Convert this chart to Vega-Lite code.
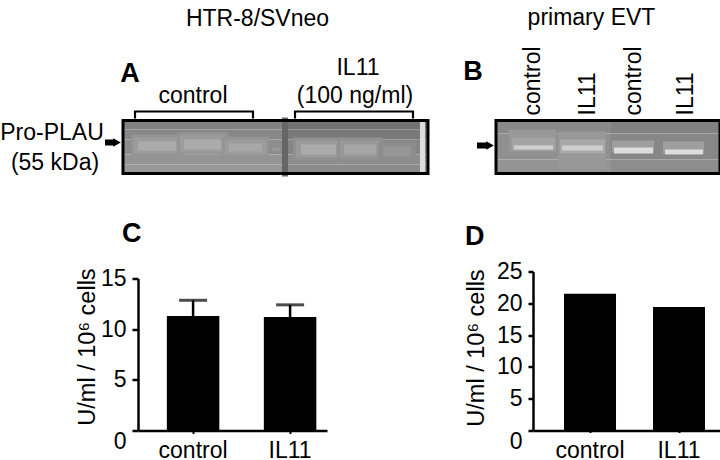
{
"$schema":"https://vega.github.io/schema/vega-lite/v6.json",
"autosize":{"type":"pad"},
"padding":{"left":0,"top":6.5,"right":0,"bottom":0},
"background":"white",
"config":{"view":{"stroke":null},"font":"Liberation Sans"},
"spacing":33,
"hconcat":[
{"spacing":43,"vconcat":[
 {"width":305,"height":55,
  "title":{"text":"HTR-8/SVneo","fontSize":23,"fontWeight":"normal","font":"Liberation Sans","anchor":"middle","frame":"group","dx":-18,"offset":26},
  "encoding":{"x":{"field":"pos","type":"quantitative","scale":{"domain":[0,305]},"axis":null},"y":{"field":"depth","type":"quantitative","scale":{"domain":[0,55],"reverse":true},"axis":null}},
  "layer":[
   {"data":{"values":[
     {"pos":0,"pos2":159,"depth":0,"depth2":10,"shade":138},{"pos":0,"pos2":159,"depth":10,"depth2":20,"shade":144},{"pos":0,"pos2":159,"depth":20,"depth2":35,"shade":150},{"pos":0,"pos2":159,"depth":35,"depth2":45,"shade":156},{"pos":0,"pos2":159,"depth":45,"depth2":55,"shade":160},
     {"pos":165,"pos2":305,"depth":0,"depth2":10,"shade":122},{"pos":165,"pos2":305,"depth":10,"depth2":20,"shade":130},{"pos":165,"pos2":305,"depth":20,"depth2":35,"shade":142},{"pos":165,"pos2":305,"depth":35,"depth2":45,"shade":150},{"pos":165,"pos2":305,"depth":45,"depth2":55,"shade":148},
     {"pos":8,"pos2":60,"depth":15,"depth2":36,"shade":156},{"pos":11,"pos2":57,"depth":18,"depth2":34,"shade":164},{"pos":15,"pos2":53,"depth":22,"depth2":31,"shade":178},
     {"pos":54,"pos2":105,"depth":13,"depth2":35,"shade":156},{"pos":57,"pos2":102,"depth":16,"depth2":33,"shade":164},{"pos":61,"pos2":98,"depth":20,"depth2":30,"shade":178},
     {"pos":99,"pos2":146,"depth":17,"depth2":37,"shade":156},{"pos":102,"pos2":143,"depth":20,"depth2":35,"shade":164},{"pos":106,"pos2":139,"depth":24,"depth2":32,"shade":176},
     {"pos":149,"pos2":157,"depth":28,"depth2":31,"shade":160},
     {"pos":170,"pos2":221,"depth":18,"depth2":41,"shade":152},{"pos":173,"pos2":218,"depth":21,"depth2":38,"shade":162},{"pos":178,"pos2":213,"depth":25,"depth2":35,"shade":178},
     {"pos":214,"pos2":260,"depth":18,"depth2":41,"shade":152},{"pos":217,"pos2":257,"depth":21,"depth2":38,"shade":160},{"pos":221,"pos2":253,"depth":25,"depth2":35,"shade":174},
     {"pos":255,"pos2":293,"depth":23,"depth2":41,"shade":150},{"pos":260,"pos2":288,"depth":27,"depth2":37,"shade":158},
     {"pos":297,"pos2":302,"depth":0,"depth2":55,"shade":225},
     {"pos":159,"pos2":165,"depth":-2,"depth2":57,"shade":110}
    ]},
    "mark":{"type":"rect"},
    "encoding":{"x2":{"field":"pos2"},"y2":{"field":"depth2"},"color":{"field":"shade","type":"quantitative","scale":{"domain":[0,255],"range":["#000000","#ffffff"]},"legend":null}}},
   {"data":{"values":[{"pos":0,"pos2":305,"depth":1,"depth2":54}]},"mark":{"type":"rect","fill":null,"stroke":"#000000","strokeWidth":3},"encoding":{"x2":{"field":"pos2"},"y2":{"field":"depth2"}}},
   {"data":{"values":[{"pos":12,"depth":-1,"b":"c","seq":1},{"pos":12,"depth":-8,"b":"c","seq":2},{"pos":130,"depth":-8,"b":"c","seq":3},{"pos":130,"depth":-1,"b":"c","seq":4},{"pos":172,"depth":-1,"b":"i","seq":1},{"pos":172,"depth":-8,"b":"i","seq":2},{"pos":290,"depth":-8,"b":"i","seq":3},{"pos":290,"depth":-1,"b":"i","seq":4}]},
    "mark":{"type":"line","color":"#000000","strokeWidth":2.2,"interpolate":"linear"},"encoding":{"detail":{"field":"b"},"order":{"field":"seq","type":"ordinal"}}},
   {"data":{"values":[{"pos":-18,"depth":23},{"pos":-8,"depth":23}]},"mark":{"type":"line","color":"#000000","strokeWidth":6}},
   {"data":{"values":[{"pos":-6,"depth":23}]},"mark":{"type":"point","shape":"triangle-right","filled":true,"color":"#000000","size":75,"opacity":1}},
   {"data":{"values":[{"pos":70,"depth":-24,"label":"control"},{"pos":235,"depth":-52,"label":"IL11"},{"pos":232,"depth":-24,"label":"(100 ng/ml)"},{"pos":-71,"depth":13,"label":"Pro-PLAU"},{"pos":-68,"depth":43,"label":"(55 kDa)"}]},
    "mark":{"type":"text","fontSize":23,"color":"#000000","font":"Liberation Sans"},"encoding":{"text":{"field":"label"}}},
   {"data":{"values":[{"pos":7,"depth":-46,"label":"A"}]},"mark":{"type":"text","fontSize":27,"fontWeight":"bold","color":"#000000","font":"Liberation Sans"},"encoding":{"text":{"field":"label"}}}
  ]},
 {"spacing":-52,"hconcat":[
  {"width":1,"height":1,"data":{"values":[{"k":1}]},"mark":{"type":"point","opacity":0},"encoding":{}},
  {"width":189,"height":152,
   "title":{"text":"C","fontSize":27,"fontWeight":"bold","font":"Liberation Sans","anchor":"start","frame":"group","dx":-16,"offset":20},
   "data":{"values":[{"group":"control","value":11.3,"upper":12.85},{"group":"IL11","value":11.2,"upper":12.4}]},
   "encoding":{"x":{"field":"group","type":"nominal","sort":["control","IL11"],"scale":{"paddingInner":0.459,"paddingOuter":0.2037,"align":0.73},
     "axis":{"title":null,"labelAngle":0,"labelFontSize":23,"labelColor":"#000000","labelFont":"Liberation Sans","domainColor":"#000000","domainWidth":2.5,"tickColor":"#000000","tickWidth":2,"tickSize":3,"labelPadding":6}}},
   "layer":[
    {"mark":{"type":"rule","color":"#000000","strokeWidth":2.5},"encoding":{"y":{"field":"value","type":"quantitative","scale":{"domain":[0,15],"nice":false}},"y2":{"field":"upper"}}},
    {"mark":{"type":"tick","color":"#000000","size":28,"thickness":3,"orient":"horizontal"},"encoding":{"y":{"field":"upper","type":"quantitative","scale":{"domain":[0,15],"nice":false}}}},
    {"mark":{"type":"bar","color":"#000000","size":52.5},"encoding":{"y":{"field":"value","type":"quantitative","scale":{"domain":[0,15],"nice":false},
      "axis":{"title":"U/ml / 10⁶ cells","titleY":68,"values":[0,5,10,15],"grid":false,"labelFontSize":23,"labelColor":"#000000","labelFont":"Liberation Sans","domainColor":"#000000","domainWidth":2.5,"tickColor":"#000000","tickWidth":2.5,"tickSize":6,"labelPadding":6,"titleFontSize":23.5,"titleFontWeight":"normal","titleFont":"Liberation Sans","titleColor":"#000000","titlePadding":1,"labelBaseline":{"condition":{"test":"datum.value==0","value":"top"},"value":"middle"}}}}}
   ]}
 ]}
]},
{"spacing":47,"vconcat":[
 {"width":225,"height":55,
  "title":{"text":"primary EVT","fontSize":23,"fontWeight":"normal","font":"Liberation Sans","anchor":"middle","frame":"group","dx":-17,"offset":16},
  "encoding":{"x":{"field":"pos","type":"quantitative","scale":{"domain":[0,225]},"axis":null},"y":{"field":"depth","type":"quantitative","scale":{"domain":[0,55],"reverse":true},"axis":null}},
  "layer":[
   {"data":{"values":[
     {"pos":0,"pos2":115,"depth":0,"depth2":14,"shade":146},{"pos":0,"pos2":115,"depth":14,"depth2":40,"shade":152},{"pos":0,"pos2":115,"depth":40,"depth2":55,"shade":156},
     {"pos":115,"pos2":225,"depth":0,"depth2":14,"shade":138},{"pos":115,"pos2":225,"depth":14,"depth2":40,"shade":144},{"pos":115,"pos2":225,"depth":40,"depth2":55,"shade":150},
     {"pos":13,"pos2":60,"depth":10,"depth2":32,"shade":160},{"pos":16,"pos2":59,"depth":18,"depth2":31,"shade":172},{"pos":18,"pos2":57,"depth":26,"depth2":30,"shade":212},
     {"pos":62,"pos2":110,"depth":12,"depth2":50,"shade":160},{"pos":64,"pos2":109,"depth":20,"depth2":34,"shade":176},{"pos":66,"pos2":107,"depth":26,"depth2":31,"shade":212},
     {"pos":116,"pos2":158,"depth":21,"depth2":33,"shade":166},{"pos":118,"pos2":157,"depth":28,"depth2":34,"shade":225},
     {"pos":167,"pos2":208,"depth":22,"depth2":34,"shade":166},{"pos":169,"pos2":207,"depth":30,"depth2":35,"shade":225}
    ]},
    "mark":{"type":"rect"},
    "encoding":{"x2":{"field":"pos2"},"y2":{"field":"depth2"},"color":{"field":"shade","type":"quantitative","scale":{"domain":[0,255],"range":["#000000","#ffffff"]},"legend":null}}},
   {"data":{"values":[{"pos":0,"pos2":224,"depth":1,"depth2":54}]},"mark":{"type":"rect","fill":null,"stroke":"#000000","strokeWidth":3},"encoding":{"x2":{"field":"pos2"},"y2":{"field":"depth2"}}},
   {"data":{"values":[{"pos":-19,"depth":26},{"pos":-8,"depth":26}]},"mark":{"type":"line","color":"#000000","strokeWidth":6}},
   {"data":{"values":[{"pos":-6,"depth":26}]},"mark":{"type":"point","shape":"triangle-right","filled":true,"color":"#000000","size":75,"opacity":1}},
   {"data":{"values":[{"pos":37,"depth":-4,"label":"control"},{"pos":92,"depth":-4,"label":"IL11"},{"pos":138,"depth":-4,"label":"control"},{"pos":190,"depth":-4,"label":"IL11"}]},
    "mark":{"type":"text","fontSize":23,"angle":270,"align":"left","baseline":"middle","color":"#000000","font":"Liberation Sans"},"encoding":{"text":{"field":"label"}}},
   {"data":{"values":[{"pos":-23,"depth":-48,"label":"B"}]},"mark":{"type":"text","fontSize":27,"fontWeight":"bold","color":"#000000","font":"Liberation Sans"},"encoding":{"text":{"field":"label"}}}
  ]},
 {"spacing":-36,"hconcat":[
  {"width":1,"height":1,"data":{"values":[{"k":1}]},"mark":{"type":"point","opacity":0},"encoding":{}},
  {"width":187,"height":159,
  "title":{"text":"D","fontSize":27,"fontWeight":"bold","font":"Liberation Sans","anchor":"start","frame":"group","dx":-68,"offset":10},
  "data":{"values":[{"group":"control","value":21.5},{"group":"IL11","value":19.4}]},
  "mark":{"type":"bar","color":"#000000","size":52},
  "encoding":{"x":{"field":"group","type":"nominal","sort":["control","IL11"],"scale":{"paddingInner":0.416,"paddingOuter":0.2585,"align":0.674},
     "axis":{"title":null,"labelAngle":0,"labelFontSize":23,"labelColor":"#000000","labelFont":"Liberation Sans","domainColor":"#000000","domainWidth":2.5,"tickColor":"#000000","tickWidth":2,"tickSize":2,"labelPadding":7}},
   "y":{"field":"value","type":"quantitative","scale":{"domain":[0,25]},
     "axis":{"title":"U/ml / 10⁶ cells","titleY":76,"values":[0,5,10,15,20,25],"grid":false,"labelFontSize":23,"labelColor":"#000000","labelFont":"Liberation Sans","domainColor":"#000000","domainWidth":2.5,"tickColor":"#000000","tickWidth":2.5,"tickSize":5,"labelPadding":6,"titleFontSize":23.5,"titleFontWeight":"normal","titleFont":"Liberation Sans","titleColor":"#000000","titlePadding":8,"labelBaseline":{"condition":{"test":"datum.value==0","value":"top"},"value":"middle"}}}}}
 ]}
]}
]}
